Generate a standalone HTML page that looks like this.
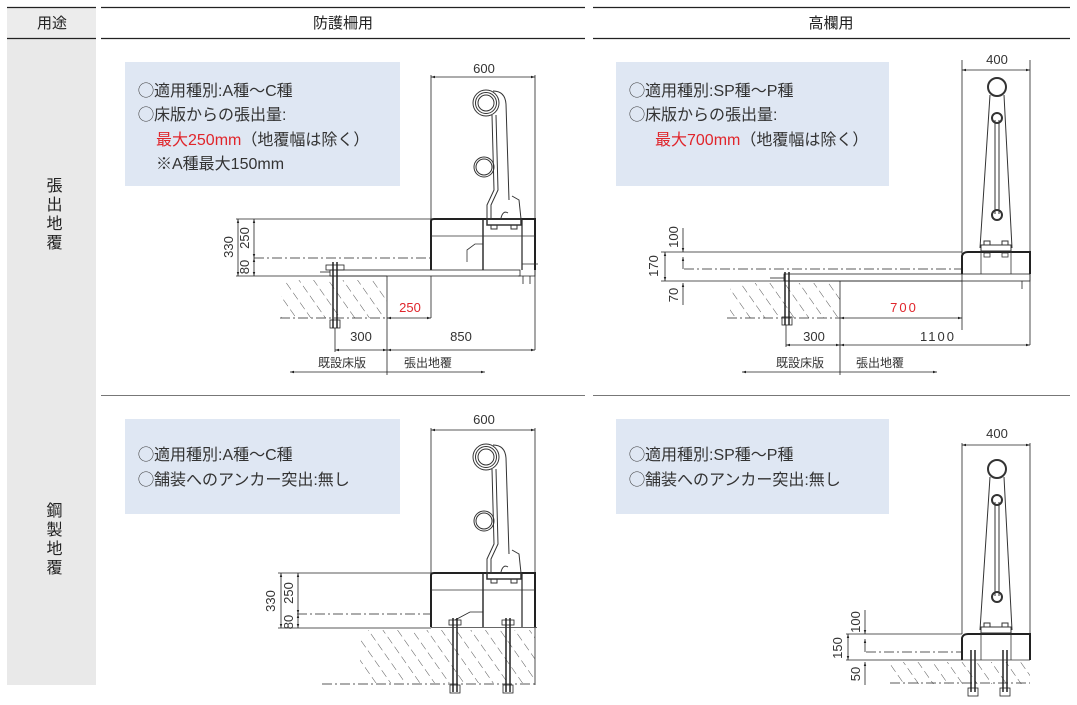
<!DOCTYPE html>
<html><head><meta charset="utf-8">
<style>
html,body{margin:0;padding:0;background:#fff;}
svg{display:block;font-family:"Liberation Sans","Noto Sans CJK JP",sans-serif;}
</style></head>
<body>
<svg width="1077" height="705" viewBox="0 0 1077 705" xmlns="http://www.w3.org/2000/svg">
<defs>
<pattern id="h" width="12" height="12" patternUnits="userSpaceOnUse" patternTransform="rotate(-35)">
<line x1="0" y1="0" x2="0" y2="12" stroke="#555" stroke-width="1" stroke-dasharray="8 4"/>
</pattern>
<marker id="a" viewBox="0 0 10 10" refX="10" refY="5" markerWidth="5" markerHeight="5" orient="auto-start-reverse"><path d="M0,2 L10,5 L0,8z" fill="#222"/></marker>
<g id="rail" fill="none" stroke="#333" stroke-width="1">
<circle cx="486" cy="103" r="13"/><circle cx="486" cy="103" r="10.5"/><circle cx="486" cy="103" r="8"/>
<circle cx="484" cy="167" r="10"/><circle cx="484" cy="167" r="8"/>
<path d="M493,91 Q505,91 506,104 L509,200"/>
<path d="M492,115 L494,190 L487,205 L487,220"/>
<path d="M496,115 L498,190 L491,205 L491,220"/>
<path d="M512,196 L519,200 L521,219"/>
<path d="M501,218 Q503,210 508,213"/>
<rect x="487" y="219" width="34" height="6" stroke-width="1.5"/>
<rect x="491" y="225" width="6" height="4"/><rect x="511" y="225" width="6" height="4"/>
</g>
<g id="post" fill="none" stroke="#333" stroke-width="1">
<circle cx="997" cy="87" r="9" stroke-width="2"/>
<path d="M990,95 L980,248 M1004,95 L1012,248"/>
<circle cx="997" cy="118" r="5" stroke-width="2"/>
<circle cx="997" cy="215" r="5" stroke-width="2"/>
<path d="M995,120 L995,214 M999,120 L999,214"/>
<rect x="981" y="245" width="30" height="6"/>
<rect x="984" y="241" width="6" height="4"/><rect x="1002" y="241" width="6" height="4"/>
</g>
</defs>

<rect x="7" y="8" width="89" height="30" fill="#ececec"/>
<rect x="7" y="38" width="89" height="647" fill="#e9e9e9"/>
<g stroke="#222" stroke-width="1.2">
<line x1="7" y1="7.5" x2="96" y2="7.5"/><line x1="101" y1="7.5" x2="585" y2="7.5"/><line x1="593" y1="7.5" x2="1070" y2="7.5"/>
<line x1="7" y1="38.5" x2="96" y2="38.5"/><line x1="101" y1="38.5" x2="585" y2="38.5"/><line x1="593" y1="38.5" x2="1070" y2="38.5"/>
</g>
<g stroke="#777" stroke-width="1">
<line x1="101" y1="395.5" x2="585" y2="395.5"/><line x1="593" y1="395.5" x2="1070" y2="395.5"/>
</g>
<g font-size="15" fill="#222" text-anchor="middle">
<text x="52" y="28">用途</text>
<text x="343" y="28">防護柵用</text>
<text x="831" y="28">高欄用</text>
<text x="52" y="215" style="writing-mode:vertical-rl" font-size="16" letter-spacing="3">張出地覆</text>
<text x="52" y="540" style="writing-mode:vertical-rl" font-size="16" letter-spacing="3">鋼製地覆</text>
</g>

<g fill="#dfe7f3">
<rect x="125" y="62" width="275" height="124"/>
<rect x="616" y="62" width="273" height="124"/>
<rect x="125" y="419" width="275" height="95"/>
<rect x="616" y="419" width="273" height="95"/>
</g>
<g font-size="16" fill="#333">
<text x="138" y="96">◯適用種別:A種～C種</text>
<text x="138" y="120">◯床版からの張出量:</text>
<text x="156" y="145"><tspan fill="#e0252b">最大250mm</tspan>（地覆幅は除く）</text>
<text x="156" y="169">※A種最大150mm</text>
<text x="629" y="96">◯適用種別:SP種～P種</text>
<text x="629" y="120">◯床版からの張出量:</text>
<text x="655" y="145"><tspan fill="#e0252b">最大700mm</tspan>（地覆幅は除く）</text>
<text x="138" y="460">◯適用種別:A種～C種</text>
<text x="138" y="485">◯舗装へのアンカー突出:無し</text>
<text x="629" y="460">◯適用種別:SP種～P種</text>
<text x="629" y="485">◯舗装へのアンカー突出:無し</text>
</g>

<!-- Top-left -->
<g fill="none" stroke="#222" stroke-width="0.8">
<rect x="281" y="280" width="106" height="38" fill="url(#h)" stroke="none"/>
<line x1="431" y1="75" x2="431" y2="219"/><line x1="535" y1="75" x2="535" y2="350"/>
<line x1="431" y1="77" x2="535" y2="77" marker-start="url(#a)" marker-end="url(#a)"/>
<line x1="236" y1="219" x2="431" y2="219"/>
<line x1="236" y1="276" x2="387" y2="276"/>
<line x1="254" y1="258" x2="431" y2="258" stroke-dasharray="10 3 2 3"/>
<line x1="238" y1="219" x2="238" y2="276" marker-start="url(#a)" marker-end="url(#a)"/>
<line x1="254" y1="219" x2="254" y2="258" marker-start="url(#a)" marker-end="url(#a)"/>
<line x1="254" y1="258" x2="254" y2="276" marker-start="url(#a)" marker-end="url(#a)"/>
<line x1="387" y1="276" x2="387" y2="375"/><line x1="431" y1="276" x2="431" y2="318"/>
<line x1="280" y1="318" x2="387" y2="318" stroke-dasharray="10 3 2 3"/>
<line x1="387" y1="318" x2="431" y2="318" marker-start="url(#a)" marker-end="url(#a)"/>
<line x1="335" y1="328" x2="335" y2="352"/>
<line x1="335" y1="350" x2="387" y2="350" marker-start="url(#a)" marker-end="url(#a)"/>
<line x1="387" y1="350" x2="535" y2="350" marker-start="url(#a)" marker-end="url(#a)"/>
<line x1="290" y1="372" x2="485" y2="372" marker-start="url(#a)" marker-end="url(#a)"/>
<rect x="330" y="270" width="190" height="6"/>
<line x1="320" y1="272" x2="330" y2="272"/>
<path d="M535,270 L535,276 L518,276" />
<line x1="523" y1="276" x2="523" y2="284"/><line x1="530" y1="276" x2="530" y2="284"/>
<line x1="333" y1="262" x2="333" y2="328" stroke-width="1.5"/><line x1="337" y1="262" x2="337" y2="328" stroke-width="1.5"/>
<rect x="330" y="320" width="10" height="8"/>
<rect x="326" y="265" width="18" height="5"/>
</g>
<g fill="none" stroke="#222" stroke-width="2">
<path d="M431,270 L431,221 Q431,219 434,219 L535,219 L535,270"/>
<line x1="483" y1="219" x2="483" y2="270" stroke-width="1.4"/>
<line x1="522" y1="219" x2="522" y2="270" stroke-width="1.2"/>
</g>
<g fill="none" stroke="#333" stroke-width="0.8">
<line x1="431" y1="236" x2="535" y2="236"/>
<path d="M467,262 L467,250 L475,244 L483,244"/>
<line x1="522" y1="264" x2="538" y2="264"/>
</g>
<use href="#rail"/>
<g font-size="13" fill="#333" text-anchor="middle">
<text x="484" y="73">600</text>
<text x="361" y="341">300</text>
<text x="461" y="341">850</text>
<text x="410" y="312" fill="#e0252b">250</text>
<text x="342" y="367" font-size="12">既設床版</text>
<text x="428" y="367" font-size="12">張出地覆</text>
<text transform="translate(233,247) rotate(-90)">330</text>
<text transform="translate(249,238) rotate(-90)">250</text>
<text transform="translate(249,267) rotate(-90)">80</text>
</g>

<!-- Top-right -->
<g fill="none" stroke="#222" stroke-width="0.8">
<rect x="730" y="283" width="110" height="35" fill="url(#h)" stroke="none"/>
<line x1="962" y1="60" x2="962" y2="330"/><line x1="1030" y1="60" x2="1030" y2="345"/>
<line x1="962" y1="70" x2="1030" y2="70" marker-start="url(#a)" marker-end="url(#a)"/>
<line x1="661" y1="252" x2="962" y2="252"/>
<line x1="661" y1="281" x2="962" y2="281"/>
<line x1="684" y1="269" x2="962" y2="269" stroke-dasharray="10 3 2 3"/>
<line x1="665" y1="252" x2="665" y2="281" marker-start="url(#a)" marker-end="url(#a)"/>
<line x1="683" y1="228" x2="683" y2="252" marker-end="url(#a)"/>
<line x1="683" y1="269" x2="683" y2="257" marker-end="url(#a)"/>
<line x1="683" y1="305" x2="683" y2="283" marker-end="url(#a)"/>
<line x1="840" y1="281" x2="840" y2="375"/>
<line x1="727" y1="318" x2="840" y2="318" stroke-dasharray="10 3 2 3"/>
<line x1="840" y1="318" x2="962" y2="318" marker-start="url(#a)" marker-end="url(#a)"/>
<line x1="786" y1="325" x2="786" y2="347"/>
<line x1="786" y1="345" x2="840" y2="345" marker-start="url(#a)" marker-end="url(#a)"/>
<line x1="840" y1="345" x2="1030" y2="345" marker-start="url(#a)" marker-end="url(#a)"/>
<line x1="742" y1="372" x2="937" y2="372" marker-start="url(#a)" marker-end="url(#a)"/>
<rect x="784" y="274" width="246" height="7"/>
<line x1="770" y1="278" x2="784" y2="278"/>
<line x1="1022" y1="281" x2="1022" y2="289"/>
<line x1="785" y1="272" x2="785" y2="325" stroke-width="1.5"/><line x1="789" y1="272" x2="789" y2="325" stroke-width="1.5"/>
<rect x="782" y="317" width="10" height="8"/>
</g>
<g fill="none" stroke="#222" stroke-width="2">
<path d="M962,274 L962,256 Q963,252 968,252 L1030,252 L1030,274"/>
</g>
<g fill="none" stroke="#333" stroke-width="0.8">
<line x1="981" y1="252" x2="981" y2="274"/><line x1="1011" y1="252" x2="1011" y2="274"/>
<rect x="984" y="253" width="6" height="4"/><rect x="1002" y="253" width="6" height="4"/>
</g>
<use href="#post"/>
<g font-size="13" fill="#333" text-anchor="middle">
<text x="997" y="64">400</text>
<text x="814" y="341">300</text>
<text x="938" y="341" letter-spacing="2">1100</text>
<text x="904" y="312" fill="#e0252b" letter-spacing="2">700</text>
<text x="800" y="367" font-size="12">既設床版</text>
<text x="880" y="367" font-size="12">張出地覆</text>
<text transform="translate(678,237) rotate(-90)">100</text>
<text transform="translate(658,266) rotate(-90)">170</text>
<text transform="translate(678,295) rotate(-90)">70</text>
</g>

<!-- Bottom-left -->
<g fill="none" stroke="#222" stroke-width="0.8">
<rect x="360" y="630" width="175" height="53" fill="url(#h)" stroke="none"/>
<line x1="431" y1="428" x2="431" y2="573"/><line x1="535" y1="428" x2="535" y2="685"/>
<line x1="431" y1="430" x2="535" y2="430" marker-start="url(#a)" marker-end="url(#a)"/>
<line x1="278" y1="573" x2="431" y2="573"/>
<line x1="278" y1="628" x2="431" y2="628"/>
<line x1="297" y1="614" x2="431" y2="614" stroke-dasharray="10 3 2 3"/>
<line x1="281" y1="573" x2="281" y2="628" marker-start="url(#a)" marker-end="url(#a)"/>
<line x1="298" y1="573" x2="298" y2="614" marker-start="url(#a)" marker-end="url(#a)"/>
<line x1="298" y1="614" x2="298" y2="628" marker-start="url(#a)" marker-end="url(#a)"/>
<line x1="322" y1="684" x2="535" y2="684" stroke-dasharray="10 3 2 3"/>
<g stroke-width="1.5">
<line x1="453" y1="618" x2="453" y2="692"/><line x1="457" y1="618" x2="457" y2="692"/>
<line x1="506" y1="618" x2="506" y2="692"/><line x1="510" y1="618" x2="510" y2="692"/>
</g>
<rect x="450" y="685" width="10" height="8"/><rect x="503" y="685" width="10" height="8"/>
<rect x="449" y="620" width="12" height="5"/><rect x="502" y="620" width="12" height="5"/>
<path d="M455,620 L470,612 L483,612"/>
</g>
<g fill="none" stroke="#222" stroke-width="2">
<path d="M431,627 L431,575 Q431,573 434,573 L535,573 L535,627"/>
<line x1="483" y1="573" x2="483" y2="627" stroke-width="1.4"/>
<line x1="522" y1="573" x2="522" y2="627" stroke-width="1.2"/>
</g>
<g fill="none" stroke="#333" stroke-width="0.8">
<line x1="431" y1="590" x2="535" y2="590"/>
<line x1="431" y1="627.5" x2="537" y2="627.5"/>
</g>
<use href="#rail" transform="translate(0,354)"/>
<g font-size="13" fill="#333" text-anchor="middle">
<text x="484" y="424">600</text>
<text transform="translate(275,601) rotate(-90)">330</text>
<text transform="translate(293,593) rotate(-90)">250</text>
<text transform="translate(293,622) rotate(-90)">80</text>
</g>

<!-- Bottom-right -->
<g fill="none" stroke="#222" stroke-width="0.8">
<rect x="890" y="662" width="140" height="22" fill="url(#h)" stroke="none"/>
<line x1="962" y1="443" x2="962" y2="634"/><line x1="1030" y1="443" x2="1030" y2="634"/>
<line x1="962" y1="445" x2="1030" y2="445" marker-start="url(#a)" marker-end="url(#a)"/>
<line x1="846" y1="634" x2="962" y2="634"/>
<line x1="846" y1="660" x2="962" y2="660"/>
<line x1="866" y1="652" x2="962" y2="652" stroke-dasharray="10 3 2 3"/>
<line x1="848" y1="634" x2="848" y2="660" marker-start="url(#a)" marker-end="url(#a)"/>
<line x1="865" y1="610" x2="865" y2="634" marker-end="url(#a)"/>
<line x1="865" y1="652" x2="865" y2="639" marker-end="url(#a)"/>
<line x1="865" y1="685" x2="865" y2="662" marker-end="url(#a)"/>
<line x1="890" y1="683" x2="1030" y2="683" stroke-dasharray="10 3 2 3"/>
<g stroke-width="1.5">
<line x1="971" y1="650" x2="971" y2="692"/><line x1="975" y1="650" x2="975" y2="692"/>
<line x1="1003" y1="650" x2="1003" y2="692"/><line x1="1007" y1="650" x2="1007" y2="692"/>
</g>
<rect x="968" y="688" width="10" height="8"/><rect x="1000" y="688" width="10" height="8"/>
</g>
<g fill="none" stroke="#222" stroke-width="2">
<path d="M962,660 L962,638 Q963,634 968,634 L1030,634 L1030,660"/>
</g>
<g fill="none" stroke="#333" stroke-width="0.8">
<line x1="981" y1="634" x2="981" y2="660"/><line x1="1011" y1="634" x2="1011" y2="660"/>
<line x1="962" y1="660" x2="1030" y2="660"/>
</g>
<use href="#post" transform="translate(0,382)"/>
<g font-size="13" fill="#333" text-anchor="middle">
<text x="997" y="438">400</text>
<text transform="translate(860,622) rotate(-90)">100</text>
<text transform="translate(842,648) rotate(-90)">150</text>
<text transform="translate(860,674) rotate(-90)">50</text>
</g>
</svg>
</body></html>
